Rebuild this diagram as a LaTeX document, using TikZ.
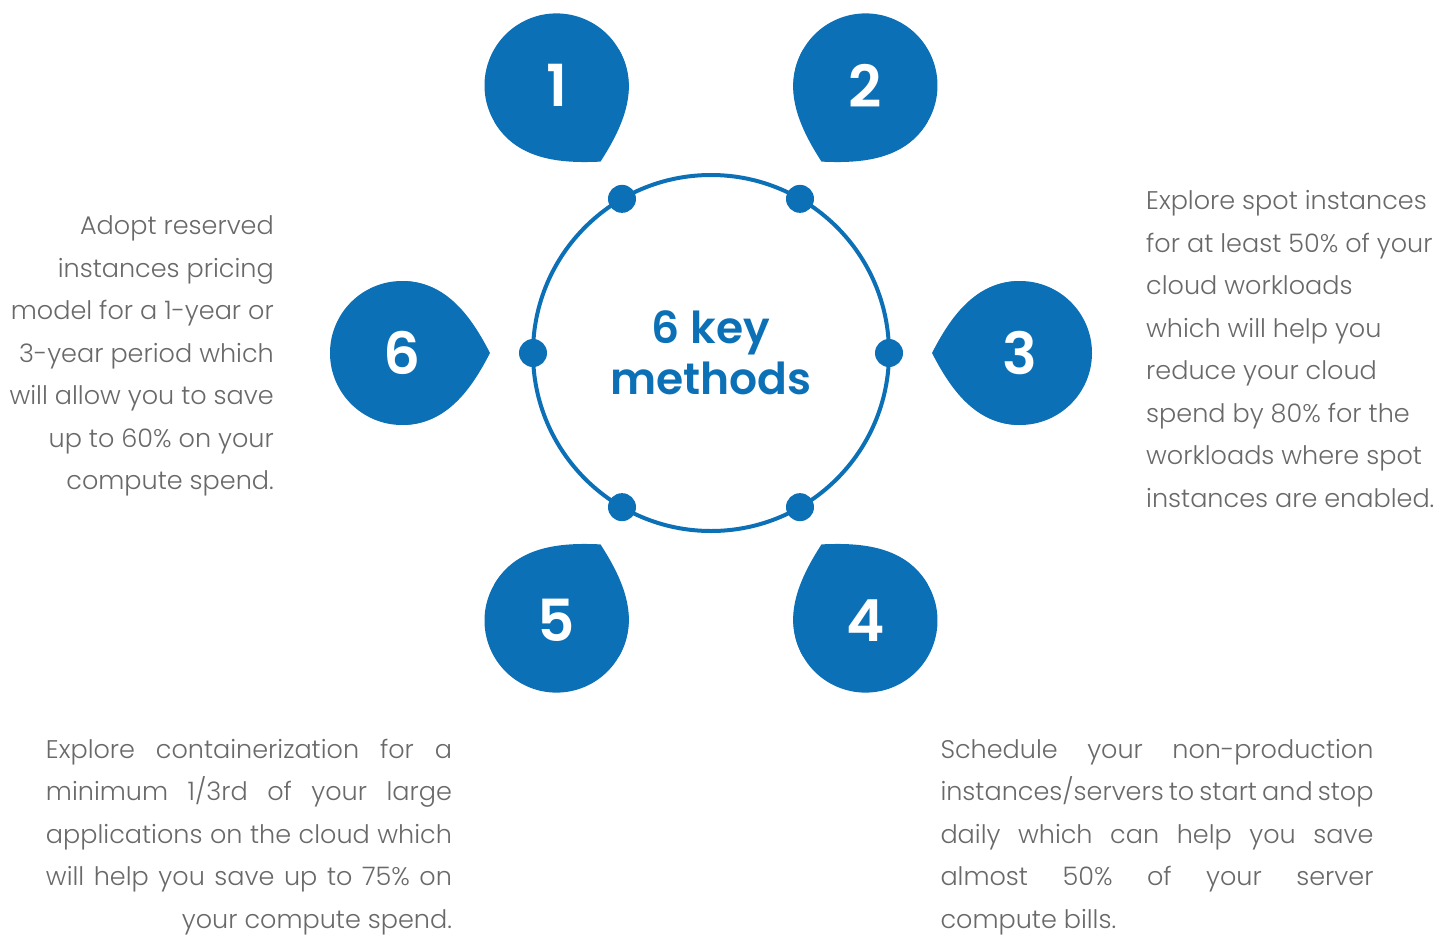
\documentclass[tikz,border=0pt]{standalone}
\usepackage{fontspec}
\setmainfont{Poppins}[UprightFont=* Light, BoldFont=* SemiBold]
\usepackage{tikz}

\definecolor{keyblue}{RGB}{12,112,182}
\definecolor{notegray}{RGB}{105,105,105}

% one justified line of a given width
\newcommand{\jline}[2]{\hbox to #1{\spaceskip=\fontdimen2\font plus 1fil minus .4\fontdimen2\font\relax #2}}

\begin{document}
\begin{tikzpicture}[x=1pt,y=1pt,
  hub/.style={circle,draw=keyblue,line width=4pt,minimum size=356pt,inner sep=0pt,outer sep=0pt,
    align=center,text=keyblue,font=\fontsize{44}{51}\selectfont\bfseries},
  pin/.style={circle,fill=keyblue,minimum size=28pt,inner sep=0pt},
  num/.style={text=white,font=\fontsize{58}{58}\selectfont\bfseries},
  note/.style={text=notegray,font=\fontsize{25.5}{42.5}\selectfont,inner sep=0pt}]
  \useasboundingbox (-711,353) rectangle (739,-585);

  \node[hub] (hub) at (0,0) {6 key\\methods};

  % drops around the ring, tips towards the centre
  \foreach \n/\a in {1/120,2/60,3/0,4/300,5/240,6/180}{
    \begin{scope}[shift={(\a:309)},rotate=\a+180]
      \fill[keyblue] (0,0) circle (72pt);
      \fill[keyblue] (88,0) .. controls (70,35) and (45,72) .. (0,72)
        -- (0,-72) .. controls (45,-72) and (70,-35) .. (88,0) -- cycle;
    \end{scope}
    \node[num] (drop\n) at (\a:309) {\n};
    \node[pin] (pin\n) at (hub.\a) {};
  }

  \node[note,anchor=east,align=right] (txt6) at (-437,-3)
    {Adopt reserved\\instances pricing\\model for a 1-year or\\3-year period which\\will allow you to save\\up to 60\% on your\\compute spend.};
  \node[note,anchor=west,align=left] (txt3) at (435,4)
    {Explore spot instances\\for at least 50\% of your\\cloud workloads\\which will help you\\reduce your cloud\\spend by 80\% for the\\workloads where spot\\instances are enabled.};
  \node[note,text width=406pt] (txt5) at (-462,-484)
    {\jline{406pt}{Explore containerization for a}
     \jline{406pt}{minimum 1/3rd of your large}
     \jline{406pt}{applications on the cloud which}
     \jline{406pt}{will help you save up to 75\% on}
     \jline{406pt}{\hfill your compute spend.}};
  \node[note,text width=433pt] (txt4) at (446,-484)
    {\jline{433pt}{Schedule your non-production}
     \jline{433pt}{instances/servers to start and stop}
     \jline{433pt}{daily which can help you save}
     \jline{433pt}{almost 50\% of your server}
     \jline{433pt}{compute bills.\hfill}};
\end{tikzpicture}
\end{document}
